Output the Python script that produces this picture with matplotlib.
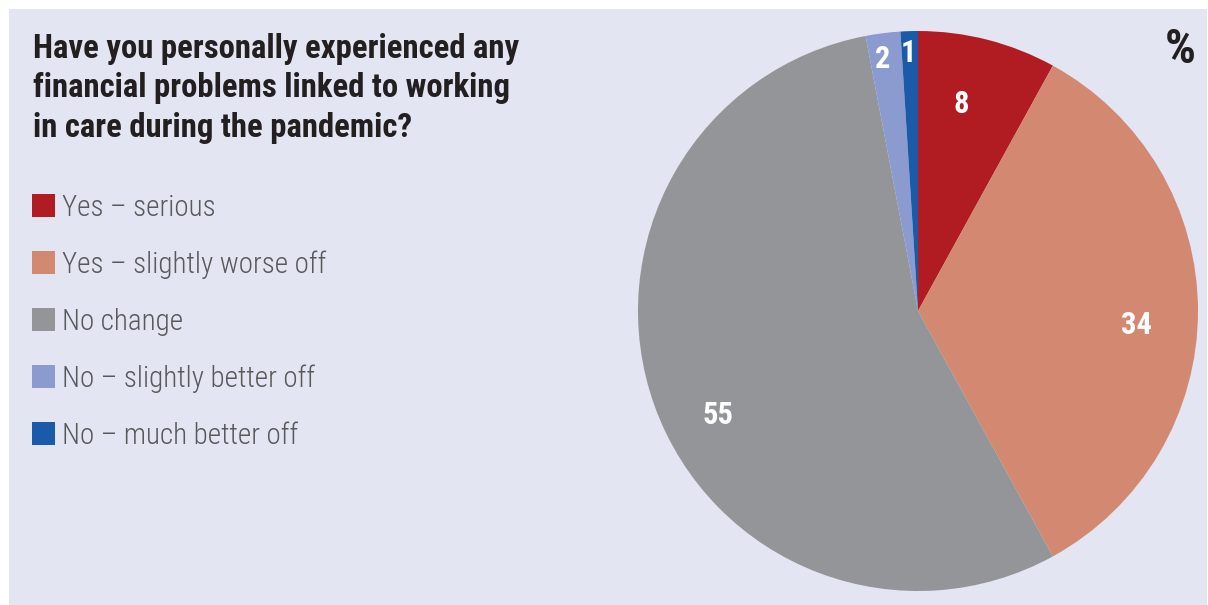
import matplotlib
matplotlib.use("Agg")
import matplotlib.pyplot as plt
from matplotlib.patches import Rectangle
import numpy as np

# ---- data ----
categories = ["Yes – serious", "Yes – slightly worse off", "No change",
              "No – slightly better off", "No – much better off"]
values = [8, 34, 55, 2, 1]
value_labels = ["8", "34", "55", "2", "1"]
title_lines = ["Have you personally experienced any",
               "financial problems linked to working",
               "in care during the pandemic?"]
unit = "%"

# ---- style ----
colors = ["#b11c23", "#d38871", "#939598", "#8b9bcf", "#1a5aa8"]
bg = "#e3e6f2"
label_r = [0.766, 0.78, 0.80, 0.92, 0.933]
label_dang = [2.8, -3.0, 7.0, 0.6, 0.4]

FONT = ["Roboto Condensed", "Liberation Sans", "DejaVu Sans"]
plt.rcParams['font.family'] = FONT

W, H = 1208, 605
fig = plt.figure(figsize=(W / 100, H / 100), dpi=100, facecolor="white")

# background panel
fig.patches.append(Rectangle((9 / W, 0), (1207 - 9) / W, (H - 9) / H,
                             transform=fig.transFigure, facecolor=bg,
                             edgecolor="none", zorder=-5))

# pie axes: center (918, 311) px, radius 280 px
cx, cy, R = 918, 311, 280
ax = fig.add_axes([(cx - R) / W, (H - cy - R) / H, 2 * R / W, 2 * R / H])
ax.set_zorder(1)
ax.set_facecolor("none")
wedges, _ = ax.pie(values, colors=colors, startangle=90, counterclock=False,
                   radius=1, wedgeprops=dict(linewidth=0))
ax.set_xlim(-1, 1)
ax.set_ylim(-1, 1)
ax.set_aspect("equal")
ax.axis("off")

for w, lab, r, da in zip(wedges, value_labels, label_r, label_dang):
    ang = np.deg2rad((w.theta1 + w.theta2) / 2 + da)
    ax.text(r * np.cos(ang), r * np.sin(ang), lab, ha="center",
            va="center_baseline", color="white", fontsize=22,
            fontweight="bold")

# title (three lines, baselines at 58, 98, 137 px from top)
for line, yb in zip(title_lines, [58, 97.5, 137]):
    fig.text(33 / W, 1 - yb / H, line, ha="left", va="baseline", fontsize=23.6,
             fontweight="bold", color="#231f20")

# unit
fig.text(1180 / W, 1 - 63 / H, unit, ha="center", va="baseline", fontsize=35,
         fontweight="bold", color="#231f20")

# legend
row0, step = 205.5, 57
sq = 23
for i, (cat, col) in enumerate(zip(categories, colors)):
    yc = row0 + i * step
    fig.patches.append(Rectangle((32 / W, 1 - (yc + sq / 2) / H), sq / W, sq / H,
                                 transform=fig.transFigure, facecolor=col,
                                 edgecolor="none", zorder=2))
    fig.text(62 / W, 1 - (yc + sq / 2 - 1) / H, cat, ha="left", va="baseline",
             fontsize=21, fontweight="light", color="#58595b")

fig.savefig("out.png", dpi=100, facecolor=fig.get_facecolor())
